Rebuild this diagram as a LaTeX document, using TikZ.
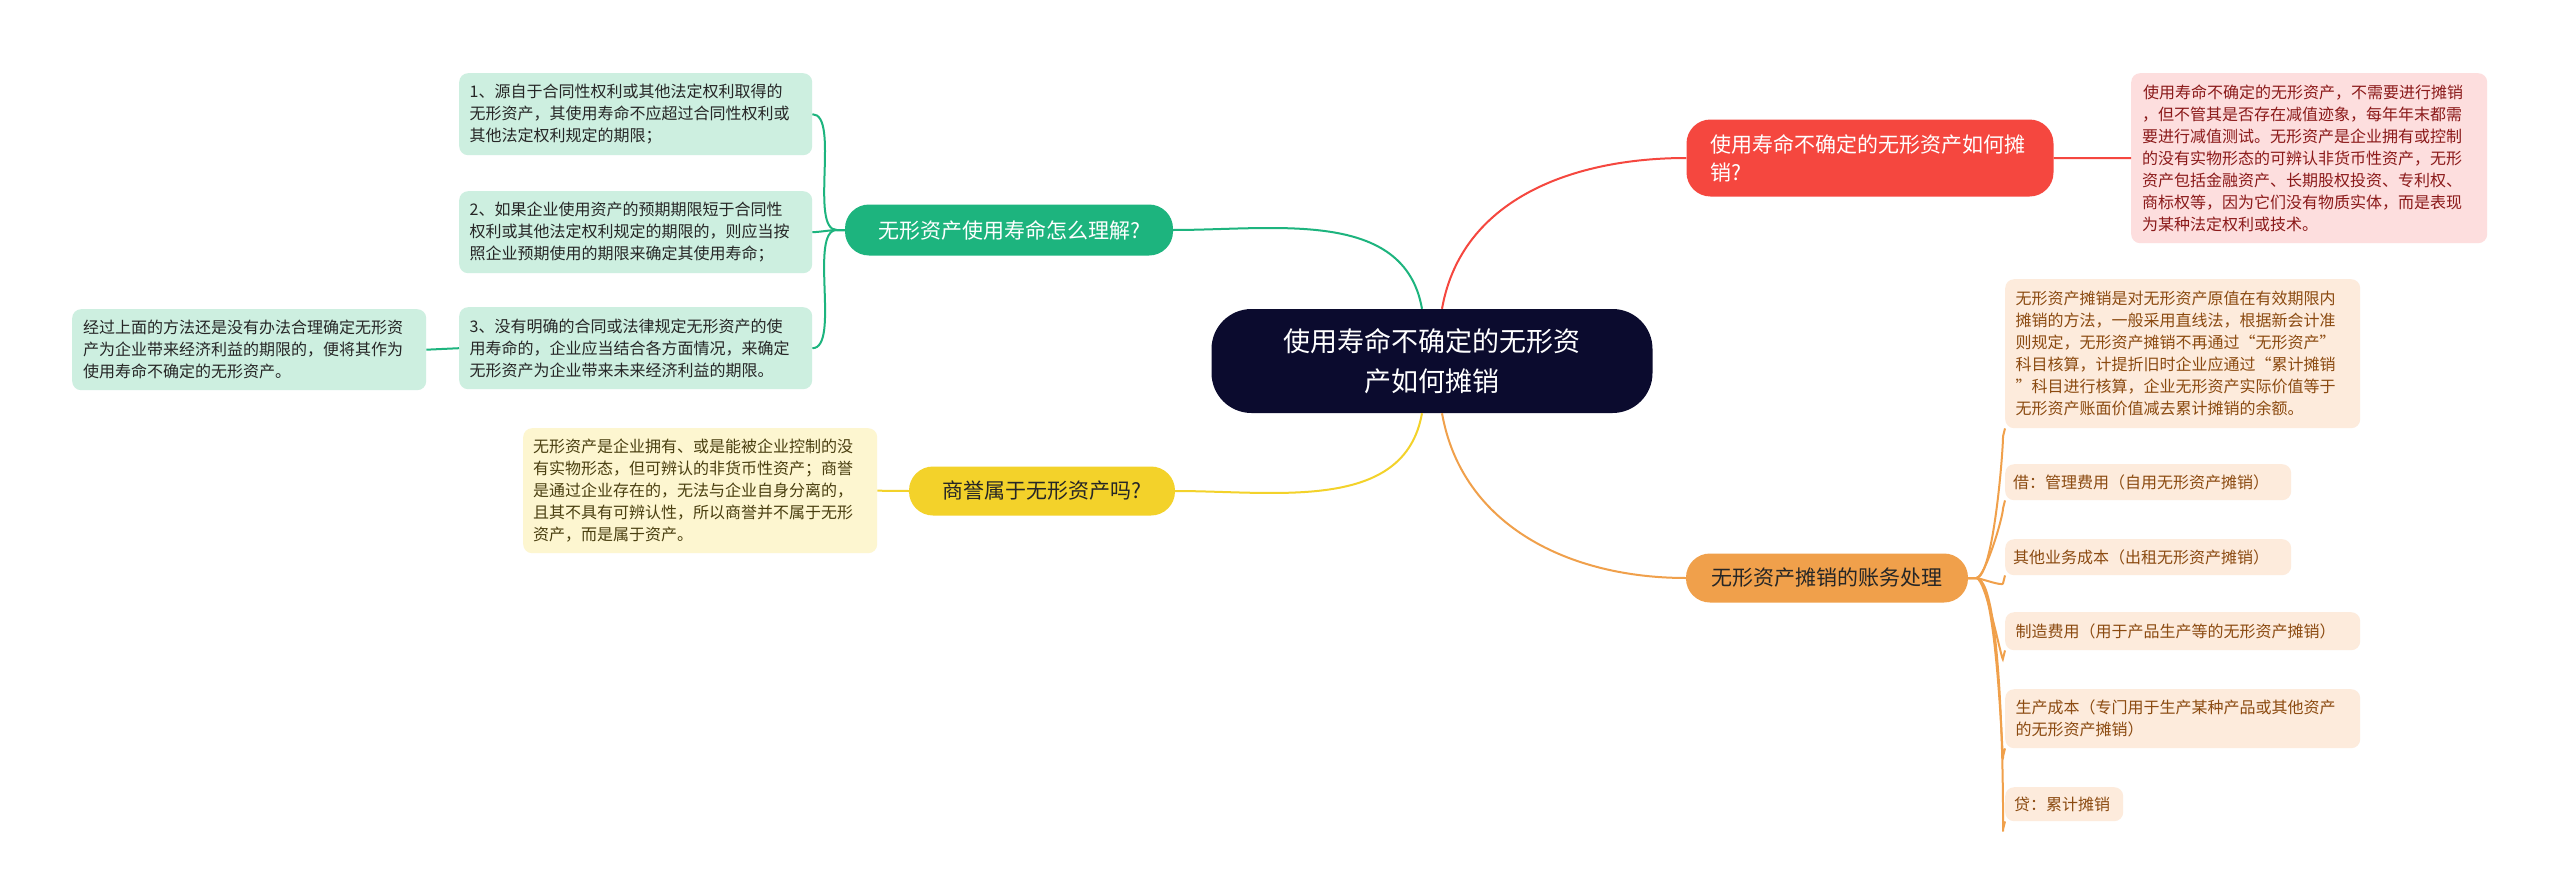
\documentclass[tikz,border=0pt]{standalone}
\usepackage{fontspec}
\setmainfont{Noto Sans CJK SC}
\begin{document}
\begin{tikzpicture}[x=1pt,y=-1pt,
  base/.style={rounded corners=9pt,inner sep=0pt,align=left,anchor=north west},
  leaf/.style={base,font=\fontsize{16}{22}\selectfont},
  main/.style={rounded corners=24pt,inner sep=0pt,align=left,font=\fontsize{21}{28}\selectfont},
  lnk/.style={line width=2pt}]
\definecolor{cdark}{HTML}{0B0B2E}
\definecolor{cred}{HTML}{F5473F}
\definecolor{credl}{HTML}{FDDEDE}
\definecolor{credt}{HTML}{8B1A1A}
\definecolor{cor}{HTML}{F0A04B}
\definecolor{corl}{HTML}{FDEBDC}
\definecolor{cort}{HTML}{8B4A10}
\definecolor{cgr}{HTML}{1DB47E}
\definecolor{cgrl}{HTML}{CDEFE0}
\definecolor{cye}{HTML}{F3D22A}
\definecolor{cyel}{HTML}{FDF6D0}
\definecolor{cyet}{HTML}{4A3F10}
\useasboundingbox (0,0) rectangle (2560,894);
\fill[white] (0,0) rectangle (2560,894);
% center
\node[fill=cdark,text=white,rounded corners=40pt,minimum width=441pt,minimum height=104pt,align=center,font=\fontsize{27}{40}\selectfont] (c) at (1432,361) {使用寿命不确定的无形资\\产如何摊销};
% main nodes
\node[main,fill=cred,text=white,minimum width=367pt,minimum height=77pt,text width=320pt] (r) at (1870,158) {使用寿命不确定的无形资产如何摊\\销?};
\node[main,fill=cor,text=black!85,minimum width=282pt,minimum height=49pt,align=center] (o) at (1827,578) {无形资产摊销的账务处理};
\node[main,fill=cgr,text=white,minimum width=328pt,minimum height=51pt,align=center] (g) at (1009,230) {无形资产使用寿命怎么理解?};
\node[main,fill=cye,text=black!85,minimum width=266pt,minimum height=49pt,align=center] (y) at (1042,491) {商誉属于无形资产吗?};
% red leaf
\node[leaf,fill=credl,text=credt,minimum width=356pt,minimum height=170pt,text width=334pt] (rl) at (2131,73) {\hspace*{1pt}使用寿命不确定的无形资产，不需要进行摊销\\，但不管其是否存在减值迹象，每年年末都需\\要进行减值测试。无形资产是企业拥有或控制\\的没有实物形态的可辨认非货币性资产，无形\\资产包括金融资产、长期股权投资、专利权、\\商标权等，因为它们没有物质实体，而是表现\\为某种法定权利或技术。};
% orange leaves
\node[leaf,fill=corl,text=cort,minimum width=355pt,minimum height=149pt,text width=334pt] (o1) at (2005,279) {无形资产摊销是对无形资产原值在有效期限内\\摊销的方法，一般采用直线法，根据新会计准\\则规定，无形资产摊销不再通过“无形资产”\\科目核算，计提折旧时企业应通过“累计摊销\\”科目进行核算，企业无形资产实际价值等于\\无形资产账面价值减去累计摊销的余额。};
\node[leaf,fill=corl,text=cort,minimum width=286pt,minimum height=36pt,text width=270pt] (o2) at (2005,464) {借：管理费用（自用无形资产摊销）};
\node[leaf,fill=corl,text=cort,minimum width=286pt,minimum height=36pt,text width=270pt] (o3) at (2005,539) {其他业务成本（出租无形资产摊销）};
\node[leaf,fill=corl,text=cort,minimum width=355pt,minimum height=38pt,text width=334pt] (o4) at (2005,612) {制造费用（用于产品生产等的无形资产摊销）};
\node[leaf,fill=corl,text=cort,minimum width=355pt,minimum height=59pt,text width=334pt] (o5) at (2005,689) {生产成本（专门用于生产某种产品或其他资产\\的无形资产摊销）};
\node[leaf,fill=corl,text=cort,minimum width=118pt,minimum height=34pt,text width=100pt] (o6) at (2005,787) {贷：累计摊销};
% green leaves
\node[leaf,fill=cgrl,text=black!85,minimum width=353pt,minimum height=82pt,text width=332pt] (g1) at (459,73) {1、源自于合同性权利或其他法定权利取得的\\无形资产，其使用寿命不应超过合同性权利或\\其他法定权利规定的期限；};
\node[leaf,fill=cgrl,text=black!85,minimum width=353pt,minimum height=82pt,text width=332pt] (g2) at (459,191) {2、如果企业使用资产的预期期限短于合同性\\权利或其他法定权利规定的期限的，则应当按\\照企业预期使用的期限来确定其使用寿命；};
\node[leaf,fill=cgrl,text=black!85,minimum width=353pt,minimum height=82pt,text width=332pt] (g3) at (459,307) {3、没有明确的合同或法律规定无形资产的使\\用寿命的，企业应当结合各方面情况，来确定\\无形资产为企业带来未来经济利益的期限。};
\node[leaf,fill=cgrl,text=black!85,minimum width=354pt,minimum height=81pt,text width=332pt] (g4) at (72,309) {经过上面的方法还是没有办法合理确定无形资\\产为企业带来经济利益的期限的，便将其作为\\使用寿命不确定的无形资产。};
% yellow leaf
\node[leaf,fill=cyel,text=cyet,minimum width=354pt,minimum height=125pt,text width=334pt] (y1) at (523,428) {无形资产是企业拥有、或是能被企业控制的没\\有实物形态，但可辨认的非货币性资产；商誉\\是通过企业存在的，无法与企业自身分离的，\\且其不具有可辨认性，所以商誉并不属于无形\\资产，而是属于资产。};
% center links
\draw[lnk,cred] (c.north) ++(10,0) to[out=80,in=180] (r.west);
\draw[lnk,cgr] (c.north) ++(-10,0) to[out=100,in=0] (g.east);
\draw[lnk,cor] (c.south) ++(10,0) to[out=-80,in=180] (o.west);
\draw[lnk,cye] (c.south) ++(-10,0) to[out=-100,in=0] (y.east);
% red leaf link
\draw[lnk,cred] (r.east) -- (rl.west);
% orange links
\foreach \n in {o1,o2,o3,o4,o5,o6}
  \draw[lnk,cor] (o.east) -- ++(8,0) to[out=0,in=-90,looseness=0.3] ([xshift=-2pt,yshift=-8pt]\n.south west) -- (\n.south west);
% green links
\foreach \n in {g1,g2,g3}
  \draw[lnk,cgr] (g.west) -- ++(-8,0) to[out=180,in=0,looseness=0.6] (\n.east);
\draw[lnk,cgr] (g3.west) -- (g4.east);
% yellow link
\draw[lnk,cye] (y.west) -- (y1.east);
\end{tikzpicture}
\end{document}
